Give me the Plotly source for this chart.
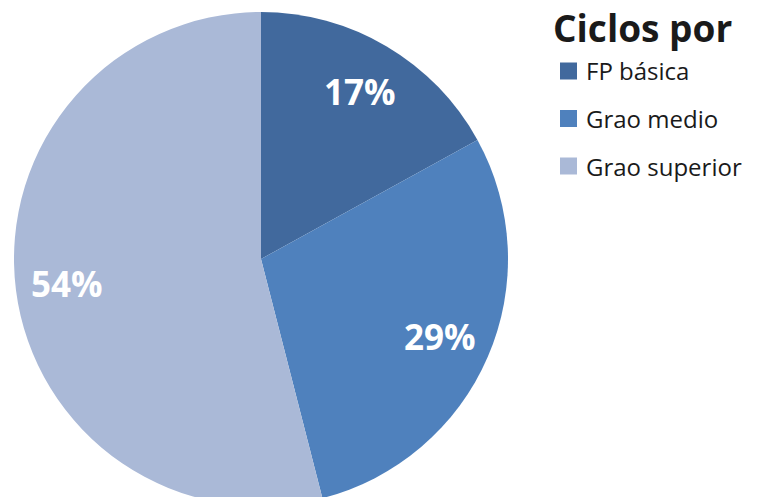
import math
import plotly.graph_objects as go

# Share of vocational training cycles by level
categories = ["FP básica", "Grao medio", "Grao superior"]
values = [17, 29, 54]
colors = ["#41699D", "#4F81BD", "#AAB9D7"]
title_text = "Ciclos por"

W, H = 763, 506
cx, cy, R = 261, 259, 247  # pie centre / radius in pixels
FONT = "Open Sans"

fig = go.Figure(
    go.Pie(
        labels=categories,
        values=values,
        sort=False,
        direction="clockwise",
        rotation=0,
        marker=dict(colors=colors, line=dict(width=0)),
        textinfo="none",
        hoverinfo="label+percent",
        showlegend=False,
        domain=dict(x=[(cx - R) / W, (cx + R) / W], y=[0, 2 * R / H]),
    )
)

annotations = []
# percentage labels placed at each slice's mid-angle
total = sum(values)
start = 0.0
for v in values:
    frac = v / total
    mid = (start + frac / 2) * 2 * math.pi
    start += frac
    px = cx + 0.79 * R * math.sin(mid)
    py = cy - 0.79 * R * math.cos(mid)
    annotations.append(dict(
        x=px / W, y=1 - py / H, xref="paper", yref="paper",
        text=f"{round(frac * 100)}%", showarrow=False,
        font=dict(family=FONT, size=35, color="white", weight="bold"),
        xanchor="center", yanchor="middle",
    ))

# title
annotations.append(dict(
    x=551 / W, y=1, xref="paper", yref="paper", text=title_text,
    showarrow=False, xanchor="left", yanchor="top",
    font=dict(family=FONT, size=37, color="#1a1a1a", weight="bold"),
))

# legend
shapes = []
for i, (name, col) in enumerate(zip(categories, colors)):
    yc = 71 + i * 47.5
    shapes.append(dict(
        type="rect", xref="paper", yref="paper",
        x0=560 / W, x1=577 / W, y0=1 - (yc + 8.5) / H, y1=1 - (yc - 8.5) / H,
        fillcolor=col, line=dict(width=0),
    ))
    annotations.append(dict(
        x=584 / W, y=1 - yc / H, xref="paper", yref="paper", text=name,
        showarrow=False, xanchor="left", yanchor="middle",
        font=dict(family=FONT, size=24, color="#1a1a1a"),
    ))

fig.update_layout(
    width=W, height=H,
    margin=dict(l=0, r=0, t=0, b=0),
    paper_bgcolor="white", plot_bgcolor="white",
    annotations=annotations, shapes=shapes,
)

fig.write_html("out.html", post_script="document.body.style.overflow='hidden';")
